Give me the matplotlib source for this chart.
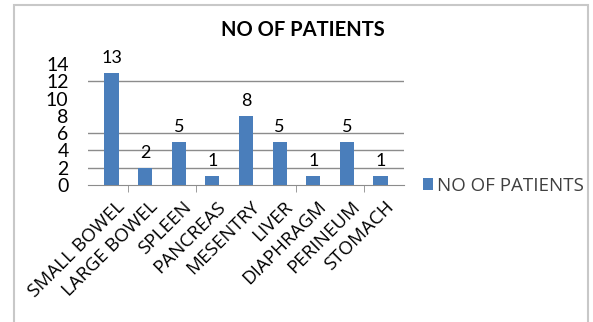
import numpy as np
import matplotlib.pyplot as plt
import matplotlib.transforms as mtransforms
from matplotlib.patches import Rectangle

sites = ["SMALL BOWEL", "LARGE BOWEL", "SPLEEN", "PANCREAS", "MESENTRY",
         "LIVER", "DIAPHRAGM", "PERINEUM", "STOMACH"]
patients = [13, 2, 5, 1, 8, 5, 1, 5, 1]
y_ticks = [0, 2, 4, 6, 8, 10, 12, 14]
grid_levels = [2, 4, 6, 12]

plt.rcParams['font.family'] = ['Lato', 'DejaVu Sans']

fig = plt.figure(figsize=(5.93, 3.22), dpi=100)
fig.patches.append(Rectangle((14 / 593, -0.05), 574 / 593, 1 - 5 / 322 + 0.05,
                             transform=fig.transFigure, fill=False,
                             edgecolor="#c8c8c8", linewidth=1.5))

ax = fig.add_axes([88 / 593, 1 - 185 / 322, 316 / 593, 121 / 322])
x = np.arange(len(sites))
bars = ax.bar(x, patients, width=0.42, color="#4a7ebb", zorder=3)

for lvl in grid_levels:
    ax.axhline(lvl, color="#8c8c8c", linewidth=1, zorder=1)

for xi, v in zip(x, patients):
    ax.text(xi, v + 0.8, str(v), ha="center", va="bottom", fontsize=13)

ax.set_xlim(-0.7, 8.7)
ax.set_ylim(0, 14)
ax.set_yticks(y_ticks)
ax.set_yticklabels([str(t) for t in y_ticks], fontsize=14)
ax.tick_params(axis="y", length=0, pad=14)

ax.set_xticks(x)
ax.set_xticklabels(sites, rotation=45, ha="right", va="top",
                   rotation_mode="anchor", fontsize=13.5, family="Open Sans")
ax.tick_params(axis="x", length=0, pad=9)
shift = mtransforms.ScaledTranslation(4 / 100, 0, fig.dpi_scale_trans)
for lab in ax.get_xticklabels():
    lab.set_transform(lab.get_transform() + shift)
ax.set_xticks([0.5, 2.5, 5.5, 7.5], minor=True)
ax.tick_params(axis="x", which="minor", length=5, color="#8c8c8c", direction="out")

for side in ["top", "right", "left"]:
    ax.spines[side].set_visible(False)
ax.spines["bottom"].set_color("#8c8c8c")
ax.set_facecolor("none")

fig.text(303 / 593, 1 - 30 / 322, "NO OF PATIENTS", ha="center", va="center",
         fontsize=14.5, fontweight="bold")

ax.legend([bars], ["NO OF PATIENTS"], loc="center left",
          bbox_to_anchor=(406 / 593, 1 - 186 / 322), bbox_transform=fig.transFigure,
          frameon=False, handlelength=0.55, handleheight=0.6,
          handletextpad=0.2, labelcolor="#404040",
          prop={"family": "Open Sans", "size": 13.5})

fig.savefig("out.png", dpi=100)
